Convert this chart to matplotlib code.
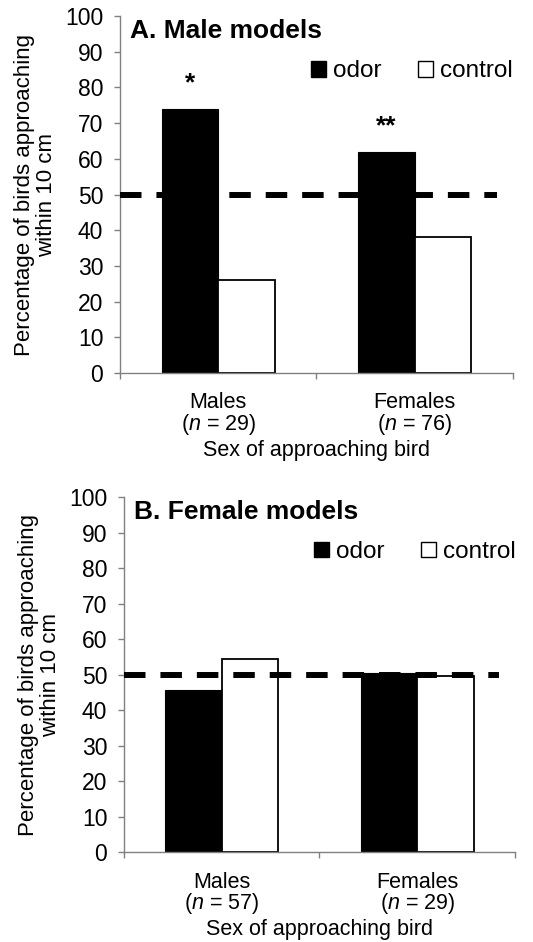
import matplotlib
matplotlib.use('Agg')
import matplotlib.pyplot as plt
from matplotlib.patches import Patch

plt.rcParams['font.family'] = ['Liberation Sans', 'DejaVu Sans']
plt.rcParams['mathtext.fontset'] = 'custom'
plt.rcParams['mathtext.rm'] = 'Liberation Sans'
plt.rcParams['mathtext.it'] = 'Liberation Sans:italic'

# Data
groups = ['Males', 'Females']
male_models_n = [29, 76]
male_models_odor = [74, 62]
male_models_control = [26, 38]
male_models_stars = ['*', '**']

female_models_n = [57, 29]
female_models_odor = [45.6, 50.4]
female_models_control = [54.4, 49.6]
female_models_stars = ['', '']

chance_level = 50
yticks = list(range(0, 101, 10))

panels = [
    {'title': 'A. Male models', 'n': male_models_n, 'odor': male_models_odor,
     'control': male_models_control, 'stars': male_models_stars,
     'rect': [0.2251, 0.6040, 0.7373, 0.3790]},
    {'title': 'B. Female models', 'n': female_models_n, 'odor': female_models_odor,
     'control': female_models_control, 'stars': female_models_stars,
     'rect': [0.2326, 0.0952, 0.7336, 0.3769]},
]

fig = plt.figure(figsize=(5.33, 9.42), dpi=100)
spine_color = '#808080'
bar_w = 0.288

for p in panels:
    ax = fig.add_axes(p['rect'])
    centers = [i + 0.5 for i in range(len(groups))]

    ax.bar([c - bar_w / 2 for c in centers], p['odor'], width=bar_w,
           color='black', edgecolor='black', linewidth=0.8, zorder=2)
    ax.bar([c + bar_w / 2 for c in centers], p['control'], width=bar_w,
           color='white', edgecolor='black', linewidth=1.3, zorder=2)

    # chance line
    ax.plot([0, 1.92], [chance_level, chance_level], color='black', lw=4.3,
            linestyle=(0, (3.6, 2.5)), zorder=3, clip_on=False)

    # significance stars
    for c, v, s in zip(centers, p['odor'], p['stars']):
        if s:
            ax.text(c - bar_w / 2, v + 3.8, s, ha='center', va='bottom',
                    fontsize=19, fontweight='bold')

    ax.set_xlim(0, 2)
    ax.set_ylim(0, 100)
    ax.set_yticks(yticks)
    ax.tick_params(axis='y', direction='out', length=4.5, width=1,
                   color=spine_color, labelsize=16.5, pad=7.5)

    ax.set_xticks([0, 1, 2])
    ax.set_xticklabels([])
    ax.tick_params(axis='x', which='major', direction='out', length=4.5,
                   width=1, color=spine_color)
    ax.set_xticks(centers, minor=True)
    ax.set_xticklabels([f'{g}\n($n$ = {n})' for g, n in zip(groups, p['n'])],
                       minor=True, fontsize=15.5, linespacing=0.92)
    ax.tick_params(axis='x', which='minor', length=0, pad=14)

    for side in ['top', 'right']:
        ax.spines[side].set_visible(False)
    for side in ['left', 'bottom']:
        ax.spines[side].set_color(spine_color)
        ax.spines[side].set_linewidth(1)

    ax.set_ylabel('Percentage of birds approaching\nwithin 10 cm', fontsize=16,
                  linespacing=1.05, labelpad=6)
    ax.set_xlabel('Sex of approaching bird', fontsize=15.5, labelpad=2)

    ax.text(0.025, 0.938, p['title'], transform=ax.transAxes, fontsize=19,
            fontweight='bold', va='baseline', ha='left')

    handles = [Patch(facecolor='black', edgecolor='black', label='odor'),
               Patch(facecolor='white', edgecolor='black', linewidth=1, label='control')]
    ax.legend(handles=handles, loc='center left', bbox_to_anchor=(0.487, 0.845),
              ncol=2, frameon=False, fontsize=17.5, handlelength=0.6,
              handleheight=0.6, handletextpad=0.3, columnspacing=1.5,
              borderaxespad=0, borderpad=0)

fig.savefig('out.png', dpi=100)
